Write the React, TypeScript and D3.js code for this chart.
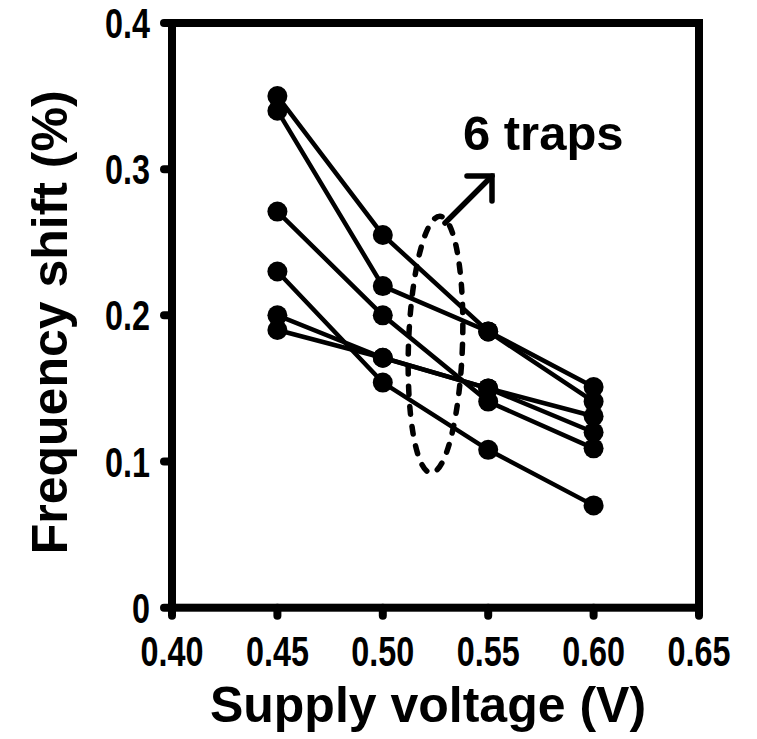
import React from "react";
import * as d3 from "d3";

// ---- data ----
const voltages = [0.45, 0.5, 0.55, 0.6];
const trap1 = [0.35, 0.255, 0.189, 0.151];
const trap2 = [0.34, 0.22, 0.189, 0.141];
const trap3 = [0.271, 0.2, 0.141, 0.109];
const trap4 = [0.23, 0.154, 0.108, 0.07];
const trap5 = [0.2, 0.171, 0.15, 0.131];
const trap6 = [0.19, 0.171, 0.15, 0.12];
const traps = [trap1, trap2, trap3, trap4, trap5, trap6];

const xTicks = [0.4, 0.45, 0.5, 0.55, 0.6, 0.65];
const yTicks = [0, 0.1, 0.2, 0.3, 0.4];
const xTickLabels = ["0.40", "0.45", "0.50", "0.55", "0.60", "0.65"];
const yTickLabels = ["0", "0.1", "0.2", "0.3", "0.4"];

const xTitle = "Supply voltage (V)";
const yTitle = "Frequency shift (%)";
const annotationText = "6 traps";

// annotation anchors in data units
const ellipseCenter = [0.525, 0.18];
const ellipseHalf = [0.0128, 0.0878];
const arrowFrom = [0.5295, 0.2632];
const arrowTo = [0.5518, 0.2953];
const annotationPos = [0.538, 0.313];

const FONT = "'Liberation Sans', Arial, Helvetica, sans-serif";

export default function App() {
  const W = 757;
  const H = 739;
  const left = 172;
  const right = 699;
  const top = 23;
  const bottom = 607.7;

  const x = d3.scaleLinear().domain([0.4, 0.65]).range([left, right]);
  const y = d3.scaleLinear().domain([0, 0.4]).range([bottom, top]);

  const line = d3
    .line<number>()
    .x((_, i) => x(voltages[i]))
    .y((d) => y(d));

  const axisW = 8;
  const tickLen = 12;
  const tickFont = 42;
  const tickSqueeze = 0.77;

  const ecx = x(ellipseCenter[0]);
  const ecy = y(ellipseCenter[1]);
  const erx = x(ellipseCenter[0] + ellipseHalf[0]) - ecx;
  const ery = ecy - y(ellipseCenter[1] + ellipseHalf[1]);

  const ax0 = x(arrowFrom[0]);
  const ay0 = y(arrowFrom[1]);
  const ax1 = x(arrowTo[0]);
  const ay1 = y(arrowTo[1]);
  const arm = 25;

  return (
    <svg
      width={W}
      height={H}
      style={{ position: "absolute", left: 0, top: 0, background: "#fff" }}
      fontFamily={FONT}
      fontWeight="bold"
    >
      {/* frame */}
      <g stroke="#000" strokeWidth={axisW} fill="none" strokeLinecap="square">
        <rect x={left} y={top} width={right - left} height={bottom - top} />
      </g>
      {/* ticks */}
      <g stroke="#000" strokeWidth={axisW} strokeLinecap="round">
        {yTicks.map((t) => (
          <line key={"yt" + t} x1={left - tickLen + 4} x2={left} y1={y(t)} y2={y(t)} />
        ))}
        {xTicks.map((t) => (
          <line key={"xt" + t} x1={x(t)} x2={x(t)} y1={bottom} y2={bottom + tickLen - 4} />
        ))}
      </g>
      {/* tick labels */}
      <g fontSize={tickFont} fill="#000">
        {yTicks.map((t, i) => (
          <g key={"yl" + t} transform={`translate(150, ${y(t) + 15}) scale(${tickSqueeze}, 1)`}>
            <text textAnchor="end">{yTickLabels[i]}</text>
          </g>
        ))}
        {xTicks.map((t, i) => (
          <g key={"xl" + t} transform={`translate(${x(t)}, 666) scale(${tickSqueeze}, 1)`}>
            <text textAnchor="middle">{xTickLabels[i]}</text>
          </g>
        ))}
      </g>
      {/* titles */}
      <text x={428} y={722} textAnchor="middle" fontSize={50}>
        {xTitle}
      </text>
      <text
        transform={`translate(67, ${(top + bottom) / 2 + 7}) rotate(-90)`}
        textAnchor="middle"
        fontSize={50}
      >
        {yTitle}
      </text>

      {/* data */}
      <g>
        {traps.map((s, k) => (
          <path key={"l" + k} d={line(s) || ""} fill="none" stroke="#000" strokeWidth={4.5} />
        ))}
        {traps.map((s, k) =>
          s.map((v, i) => (
            <circle key={"c" + k + "-" + i} cx={x(voltages[i])} cy={y(v)} r={10} fill="#000" />
          ))
        )}
      </g>

      {/* annotation */}
      <ellipse
        cx={ecx}
        cy={ecy}
        rx={erx}
        ry={ery}
        fill="none"
        stroke="#000"
        strokeWidth={5.5}
        strokeDasharray="8 12"
        strokeLinecap="round"
        transform={`rotate(2, ${ecx}, ${ecy})`}
      />
      <g stroke="#000" strokeWidth={5.5} fill="none" strokeLinecap="round" strokeLinejoin="miter">
        <line x1={ax0} y1={ay0} x2={ax1} y2={ay1} />
        <polyline points={`${ax1 - arm},${ay1} ${ax1},${ay1} ${ax1},${ay1 + arm}`} />
      </g>
      <text x={x(annotationPos[0])} y={y(annotationPos[1])} fontSize={49}>
        {annotationText}
      </text>
    </svg>
  );
}
